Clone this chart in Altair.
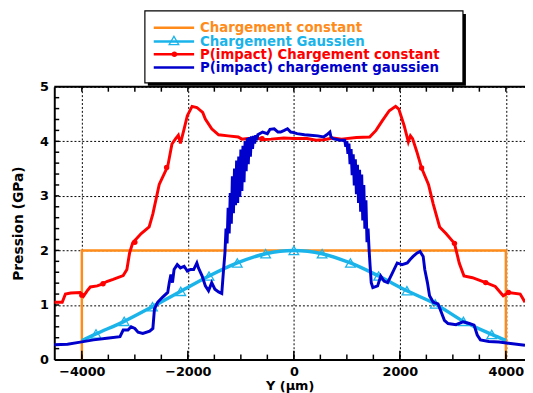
import altair as alt
import pandas as pd

# ---------------- data ----------------
const_x = [-4000, -4000, 4000, 4000]
const_y = [0.0, 2.0, 2.0, 0.0]

gauss_x = [-4000, -3733, -3200, -2667, -2133, -1600, -1067, -533, 0,
           533, 1067, 1600, 2133, 2667, 3200, 3733, 4000]
gauss_y = [0.35, 0.47, 0.70, 0.97, 1.25, 1.53, 1.77, 1.94, 2.00,
           1.94, 1.77, 1.53, 1.26, 1.02, 0.70, 0.46, 0.35]

red_x = [-4520, -4370, -4310, -4210, -4030, -3970, -3900, -3840, -3710, -3620,
         -3530, -3410, -3220, -3150, -3100, -3040, -2880, -2730, -2660, -2540,
         -2380, -2300, -2230, -2180, -2140, -2070, -2010, -1920, -1830, -1720,
         -1670, -1550, -1420, -1240, -1050, -980, -870, -680, -600, -430, -190,
         0, 250, 420, 560, 740, 900, 1180, 1430, 1550, 1670, 1800, 1920, 1980,
         2080, 2160, 2200, 2240, 2320, 2410, 2540, 2630, 2750, 2870, 3030, 3120,
         3210, 3370, 3620, 3800, 3950, 4050, 4270, 4361]
red_y = [1.05, 1.05, 1.20, 1.22, 1.23, 1.16, 1.26, 1.33, 1.35, 1.38,
         1.43, 1.47, 1.54, 1.65, 1.95, 2.14, 2.31, 2.43, 2.67, 3.21,
         3.54, 3.95, 4.05, 4.11, 3.96, 4.23, 4.47, 4.64, 4.62, 4.53,
         4.41, 4.23, 4.12, 4.10, 4.08, 4.04, 4.05, 4.06, 4.03, 4.04, 4.06,
         4.05, 4.05, 4.02, 4.03, 4.06, 4.04, 4.07, 4.08, 4.20, 4.38, 4.56, 4.64, 4.59,
         4.29, 3.99, 4.10, 4.05, 3.81, 3.51, 3.21, 2.85, 2.43, 2.31, 2.13, 1.77,
         1.53, 1.50, 1.41, 1.34, 1.17, 1.23, 1.20, 1.05]

red_mark_x = [-4000, -3600, -3000, -2400, -600, 2410, 3030, 3620, 4050]
red_mark_y = [1.18, 1.39, 2.15, 3.52, 4.05, 3.51, 2.13, 1.41, 1.23]

blue_x = [-4520, -4270, -4030, -3780, -3530, -3280, -3220, -3130, -3070, -3000,
          -2940, -2850, -2720, -2660, -2630, -2570, -2480, -2380, -2350, -2320,
          -2290, -2260, -2200, -2140, -2070, -2010, -1950, -1890, -1830, -1800,
          -1730, -1670, -1610, -1550, -1490, -1420, -1360, -1330,
          # noisy rise
          -1300, -1280, -1260, -1240, -1220, -1200, -1180, -1160, -1140, -1120,
          -1100, -1080, -1060, -1040, -1020, -1000, -980, -960, -940, -920,
          -900, -880, -860, -840, -820, -800, -780, -760, -740, -720,
          -700, -680,
          # plateau
          -590, -500, -450, -370, -300, -250, -180, -120, -60, 0,
          60, 200, 310, 450, 560, 620, 680, 700, 740, 870,
          # noisy fall
          960, 980, 1000, 1020, 1040, 1060, 1080, 1100, 1120, 1140,
          1160, 1180, 1200, 1220, 1240, 1260, 1280, 1300, 1320, 1340,
          1360, 1380, 1400, 1420, 1440,
          1460, 1490, 1580, 1640, 1700, 1770, 1860, 1950, 2040, 2140,
          2190, 2250, 2320, 2380, 2440, 2470, 2520, 2560, 2630, 2720,
          2780, 2840, 2910, 3060, 3190, 3310, 3400, 3460, 3520, 3680,
          3870, 4050, 4361]
blue_y = [0.27, 0.28, 0.32, 0.36, 0.39, 0.42, 0.54, 0.54, 0.60, 0.57,
          0.50, 0.48, 0.52, 0.57, 0.93, 1.05, 1.14, 1.23, 1.41, 1.56,
          1.41, 1.65, 1.74, 1.68, 1.71, 1.62, 1.65, 1.65, 1.77, 1.68,
          1.53, 1.35, 1.26, 1.41, 1.29, 1.24, 1.21, 1.60,
          1.96, 2.40, 2.13, 2.78, 2.31, 3.05, 2.49, 3.36, 2.68, 3.50,
          2.83, 3.65, 2.87, 3.72, 2.98, 3.85, 3.09, 3.92, 3.25, 4.00,
          3.45, 4.06, 3.58, 4.08, 3.72, 4.09, 3.86, 4.10, 3.96, 4.11,
          4.02, 4.12,
          4.17, 4.14, 4.22, 4.23, 4.17, 4.17, 4.20, 4.23, 4.17, 4.16,
          4.14, 4.12, 4.11, 4.10, 4.08, 4.12, 4.17, 4.08, 4.05, 4.02,
          4.02, 3.90, 4.00, 3.77, 3.96, 3.58, 3.86, 3.38, 3.76, 3.19,
          3.67, 3.03, 3.57, 2.87, 3.48, 2.71, 3.39, 2.55, 3.20, 2.40,
          2.92, 2.15, 2.40, 2.00, 1.70,
          1.41, 1.32, 1.35, 1.53, 1.44, 1.41, 1.59, 1.77, 1.74, 1.77,
          1.83, 1.89, 1.95, 1.98, 1.89, 1.65, 1.41, 1.17, 1.05, 1.02,
          0.87, 0.72, 0.66, 0.64, 0.69, 0.66, 0.63, 0.45, 0.36, 0.33,
          0.32, 0.30, 0.26]

legend_labels = ["Chargement constant", "Chargement Gaussien",
                 "P(impact) Chargement constant", "P(impact) chargement gaussien"]
colors = ["#ff8c1a", "#1ab4ea", "#ff0000", "#0000cc"]

x_major = [-4000, -2000, 0, 2000, 4000]
x_minor = [-4000, -3500, -3000, -2500, -2000, -1500, -1000, -500, 0,
           500, 1000, 1500, 2000, 2500, 3000, 3500, 4000]
y_major = [0, 1, 2, 3, 4, 5]
y_minor = [0.2, 0.4, 0.6, 0.8, 1.2, 1.4, 1.6, 1.8, 2.2, 2.4, 2.6, 2.8,
           3.2, 3.4, 3.6, 3.8, 4.2, 4.4, 4.6, 4.8, 1, 2, 3, 4]

# ---------------- chart ----------------
FONT = "DejaVu Sans"
W, H = 478, 277
XDOM = [-4520, 4361]
xs = alt.Scale(domain=XDOM, nice=False, zero=False)
ys = alt.Scale(domain=[0, 5], nice=False)

def df(x, y):
    return pd.DataFrame({"x": x, "y": y, "i": list(range(len(x)))})

xenc = alt.X("x:Q", scale=xs,
             axis=alt.Axis(values=x_major, format="d", grid=True, gridColor="black",
                           gridDash=[2, 2], gridWidth=1, gridOpacity=1, ticks=False,
                           domain=True, domainColor="black", domainWidth=2,
                           labelFont=FONT, labelFontSize=13, labelFontWeight="bold",
                           labelColor="black", labelPadding=6, title="Y (µm)",
                           titleFont=FONT, titleFontSize=13, titleFontWeight="bold",
                           titleColor="black", titlePadding=1, labelFlush=False))
yenc = alt.Y("y:Q", scale=ys,
             axis=alt.Axis(values=y_major, grid=True, gridColor="black", gridDash=[2, 2],
                           gridWidth=1, gridOpacity=1, ticks=False, domain=True,
                           domainColor="black", domainWidth=2, labelFont=FONT,
                           labelFontSize=13, labelFontWeight="bold", labelColor="black",
                           labelPadding=6, title="Pression (GPa)", titleFont=FONT,
                           titleFontSize=14, titleFontWeight="bold", titleColor="black",
                           titlePadding=14))

base = alt.Chart(df(const_x, const_y)).mark_line(
    color=colors[0], strokeWidth=2.5, clip=True).encode(x=xenc, y=yenc, order="i:Q")

gauss_line = alt.Chart(df(gauss_x, gauss_y)).mark_line(
    color=colors[1], strokeWidth=3.5, interpolate="monotone", clip=True).encode(
    x=alt.X("x:Q", scale=xs), y=alt.Y("y:Q", scale=ys), order="i:Q")
gauss_pts = alt.Chart(df(gauss_x[1:-1], gauss_y[1:-1])).mark_point(
    shape="triangle-up", filled=False, color=colors[1], size=95, strokeWidth=1.3,
    opacity=1, clip=True).encode(x=alt.X("x:Q", scale=xs), y=alt.Y("y:Q", scale=ys))

red_line = alt.Chart(df(red_x, red_y)).mark_line(
    color=colors[2], strokeWidth=3, clip=True).encode(
    x=alt.X("x:Q", scale=xs), y=alt.Y("y:Q", scale=ys), order="i:Q")
red_pts = alt.Chart(df(red_mark_x, red_mark_y)).mark_circle(
    color=colors[2], size=30, opacity=1, clip=True).encode(
    x=alt.X("x:Q", scale=xs), y=alt.Y("y:Q", scale=ys))

blue_line = alt.Chart(df(blue_x, blue_y)).mark_line(
    color=colors[3], strokeWidth=3, clip=True).encode(
    x=alt.X("x:Q", scale=xs), y=alt.Y("y:Q", scale=ys), order="i:Q")

# inward ticks
one = alt.Data(values=[{"a": 0}])
tick_layers = []
tick_layers.append(alt.Chart(pd.DataFrame({"t": x_minor})).mark_rule(color="black", strokeWidth=1.5).encode(
    x=alt.X("t:Q", scale=xs), y=alt.value(H), y2=alt.value(H - 5)))
tick_layers.append(alt.Chart(pd.DataFrame({"t": x_major})).mark_rule(color="black", strokeWidth=1.5).encode(
    x=alt.X("t:Q", scale=xs), y=alt.value(H), y2=alt.value(H - 9)))
tick_layers.append(alt.Chart(pd.DataFrame({"t": x_minor})).mark_rule(color="black", strokeWidth=1.5).encode(
    x=alt.X("t:Q", scale=xs), y=alt.value(0), y2=alt.value(5)))
tick_layers.append(alt.Chart(pd.DataFrame({"t": y_minor})).mark_rule(color="black", strokeWidth=1.5).encode(
    y=alt.Y("t:Q", scale=ys), x=alt.value(0), x2=alt.value(5)))
tick_layers.append(alt.Chart(one).mark_rule(color="black", strokeWidth=2).encode(
    x=alt.value(0), x2=alt.value(W), y=alt.value(0)))

# legend box
LX0, LX1, LY0, LY1 = 92, 415, -77, -4
leg = []
leg.append(alt.Chart(one).mark_rect(color="black").encode(
    x=alt.value(LX0 + 3), x2=alt.value(LX1 + 3), y=alt.value(LY0 + 3), y2=alt.value(LY1 + 3)))
leg.append(alt.Chart(one).mark_rect(fill="white", stroke="black", strokeWidth=1.2).encode(
    x=alt.value(LX0), x2=alt.value(LX1), y=alt.value(LY0), y2=alt.value(LY1)))
rows_y = [-60, -46, -33, -19.5]
for k, (lab, col) in enumerate(zip(legend_labels, colors)):
    yy = rows_y[k]
    leg.append(alt.Chart(one).mark_rule(color=col, strokeWidth=2.5).encode(
        x=alt.value(101), x2=alt.value(142), y=alt.value(yy)))
    leg.append(alt.Chart(pd.DataFrame({"label": [lab]})).mark_text(
        align="left", baseline="middle", font=FONT, fontSize=13.5, fontWeight="bold",
        color=col, lineHeight=13).encode(x=alt.value(148), y=alt.value(yy + 0.5),
                                          text="label:N"))
leg.append(alt.Chart(one).mark_point(shape="triangle-up", filled=False, color=colors[1],
                                     size=95, strokeWidth=1.3, opacity=1).encode(
    x=alt.value(121.5), y=alt.value(rows_y[1] - 1)))
leg.append(alt.Chart(one).mark_circle(color=colors[2], size=30, opacity=1).encode(
    x=alt.value(122), y=alt.value(rows_y[2])))

chart = alt.layer(base, gauss_line, gauss_pts, red_line, red_pts, blue_line,
                  *tick_layers, *leg).properties(
    width=W, height=H,
    autosize=alt.AutoSizeParams(type="none"),
    padding={"left": 47, "top": 77, "right": 0, "bottom": 31},
    background="white",
).configure_view(stroke=None)

chart.save("out.html", embed_options={"renderer": "svg", "actions": False})
